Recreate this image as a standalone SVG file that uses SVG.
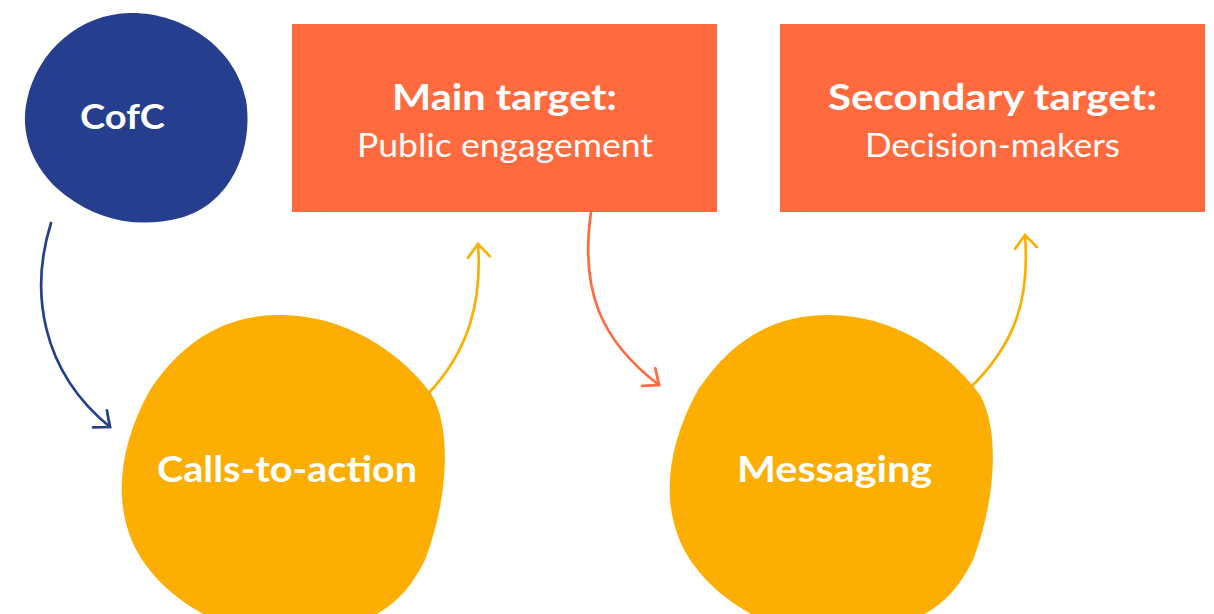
<svg xmlns="http://www.w3.org/2000/svg" width="1214" height="614" viewBox="0 0 1214 614">
<defs>
<style>
.blue{fill:#253f8e}
.yel{fill:#fcae02}
.box{fill:#ff6a3e}
.t{font-family:Lato,"Open Sans",sans-serif;fill:#ffffff;text-anchor:middle}
.b{font-weight:700}
.r{font-weight:400}
.c{fill:none;stroke-width:2.7;stroke-linecap:round}
</style>
<marker id="mb" markerUnits="userSpaceOnUse" markerWidth="40" markerHeight="40" viewBox="-20 -20 40 40" refX="0" refY="0" orient="auto"><path d="M-13,-11 L0,0 L-13,11" fill="none" stroke="#253f8e" stroke-width="2.7" stroke-linecap="round"/></marker>
<marker id="my" markerUnits="userSpaceOnUse" markerWidth="40" markerHeight="40" viewBox="-20 -20 40 40" refX="0" refY="0" orient="auto"><path d="M-13,-11 L0,0 L-13,11" fill="none" stroke="#fbb000" stroke-width="2.7" stroke-linecap="round"/></marker>
<marker id="mr" markerUnits="userSpaceOnUse" markerWidth="40" markerHeight="40" viewBox="-20 -20 40 40" refX="0" refY="0" orient="auto"><path d="M-13,-11 L0,0 L-13,11" fill="none" stroke="#ff6a3e" stroke-width="2.7" stroke-linecap="round"/></marker>
</defs>
<rect width="1214" height="614" fill="#ffffff"/>
<g id="connectors">
<path class="c" stroke="#253f8e" d="M51,223 C30,290 40,370 110,427" marker-end="url(#mb)"/>
<path class="c" stroke="#fbb000" d="M427,395 C470,350 482,300 478,244" marker-end="url(#my)"/>
<path class="c" stroke="#ff6a3e" d="M591,212 C580,290 600,340 659,385" marker-end="url(#mr)"/>
<path class="c" stroke="#fbb000" d="M968,390 C1015,345 1030,300 1025,235" marker-end="url(#my)"/>
</g>
<g id="cofc">
<path class="blue" d="M130,13 C180,12 235,45 246,100 C254,150 230,205 180,218 C140,228 100,222 65,195 C30,168 20,130 27,100 C38,50 80,14 130,13 Z"/>
<text class="t b" x="122.5" y="129" font-size="34" textLength="85" lengthAdjust="spacingAndGlyphs">CofC</text>
</g>
<g id="main-target">
<rect class="box" x="292" y="24" width="425" height="188"/>
<text class="t b" x="504.5" y="110" font-size="36" textLength="225" lengthAdjust="spacingAndGlyphs">Main target:</text>
<text class="t r" x="505" y="157" font-size="33" textLength="296" lengthAdjust="spacingAndGlyphs">Public engagement</text>
</g>
<g id="secondary-target">
<rect class="box" x="780" y="24" width="425" height="188"/>
<text class="t b" x="992.5" y="110" font-size="36" textLength="329" lengthAdjust="spacingAndGlyphs">Secondary target:</text>
<text class="t r" x="992.5" y="157" font-size="33" textLength="255" lengthAdjust="spacingAndGlyphs">Decision-makers</text>
</g>
<g id="calls-to-action">
<path class="yel" d="M277,315 C340,313 400,350 432,395 C452,430 448,500 425,560 C405,600 380,620 330,630 L240,630 C180,610 140,570 128,530 C115,490 122,440 150,390 C180,345 220,316 277,315 Z"/>
<text class="t b" x="287" y="482" font-size="37" textLength="260" lengthAdjust="spacingAndGlyphs">Calls-to-action</text>
</g>
<g id="messaging">
<path class="yel" d="M825,315 C888,313 948,350 980,395 C1000,430 996,500 973,560 C953,600 928,620 878,630 L788,630 C728,610 688,570 676,530 C663,490 670,440 698,390 C728,345 768,316 825,315 Z"/>
<text class="t b" x="834.5" y="482" font-size="37" textLength="195" lengthAdjust="spacingAndGlyphs">Messaging</text>
</g>
</svg>
